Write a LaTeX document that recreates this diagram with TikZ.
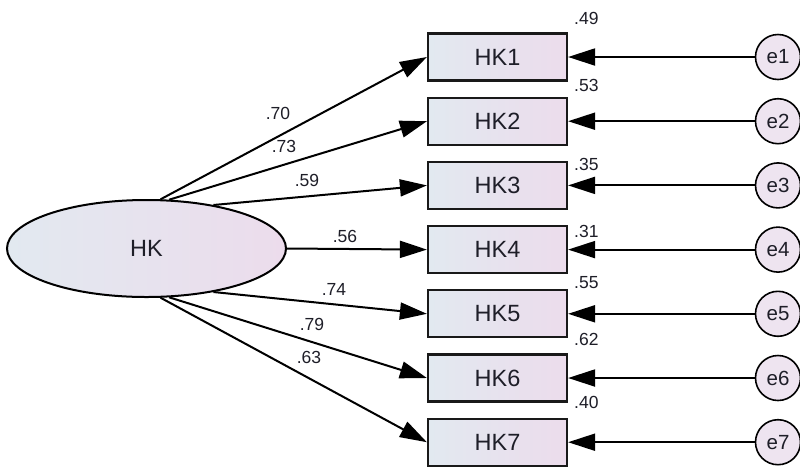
\documentclass[tikz,border=0pt]{standalone}
\usepackage{fontspec}
\setmainfont{Liberation Sans}
\usetikzlibrary{shapes.geometric,arrows.meta}
\definecolor{boxL}{RGB}{226,233,240}
\definecolor{boxR}{RGB}{236,220,236}
\definecolor{errC}{RGB}{238,228,240}
\definecolor{txt}{RGB}{30,30,40}
\begin{document}
\begin{tikzpicture}[x=1pt,y=-1pt,
  obs/.style={draw=black!90,line width=2.2pt,left color=boxL,right color=boxR,
    minimum width=139pt,minimum height=47pt,inner sep=0pt,text=txt,
    font=\fontsize{23.5}{23.5}\selectfont},
  lat/.style={ellipse,draw=black,line width=2pt,left color=boxL,right color=boxR,
    minimum width=279pt,minimum height=97pt,inner sep=0pt,text=txt,
    font=\fontsize{23.5}{23.5}\selectfont},
  err/.style={circle,draw=black,line width=1.6pt,fill=errC,minimum size=45pt,
    inner sep=0pt,text=txt,font=\fontsize{20.5}{20.5}\selectfont},
  coef/.style={inner sep=0pt,text=txt,font=\fontsize{17.5}{17.5}\selectfont},
  var/.style={coef,anchor=west},
  arr/.style={line width=2pt,-{Triangle[length=27pt,width=17pt]}}
]
\useasboundingbox (0,0) rectangle (800,467);
\fill[white] (0,0) rectangle (800,467);

\node[lat] (HK) at (146.5,248.5) {HK};

\foreach \i/\y in {1/57,2/121.2,3/185.4,4/249.6,5/313.8,6/378,7/442.2}{
  \node[obs] (HK\i) at (497.5,\y) {HK\i};
  \node[err] (e\i) at (778,\y) {e\i};
  \draw[arr] (e\i) -- (HK\i.east);
}

\draw[arr] (HK.74.4) -- (HK1.west);
\draw[arr] (HK.65.8) -- (HK2.west);
\draw[arr] (HK.33.2) -- (HK3.west);
\draw[arr] (HK.east) -- (HK4.west);
\draw[arr] (HK.-33.2) -- (HK5.west);
\draw[arr] (HK.-65.8) -- (HK6.west);
\draw[arr] (HK.-74.4) -- (HK7.west);

\node[coef] (c1) at (278,113) {.70};
\node[coef] (c2) at (284,146) {.73};
\node[coef] (c3) at (307,180) {.59};
\node[coef] (c4) at (345,236) {.56};
\node[coef] (c5) at (334,289) {.74};
\node[coef] (c6) at (312,324) {.79};
\node[coef] (c7) at (309,357) {.63};

\node[var] (v1) at (574,18) {.49};
\node[var] (v2) at (574,85) {.53};
\node[var] (v3) at (574,164) {.35};
\node[var] (v4) at (574,231) {.31};
\node[var] (v5) at (574,283) {.55};
\node[var] (v6) at (574,339) {.62};
\node[var] (v7) at (574,402) {.40};
\end{tikzpicture}
\end{document}
